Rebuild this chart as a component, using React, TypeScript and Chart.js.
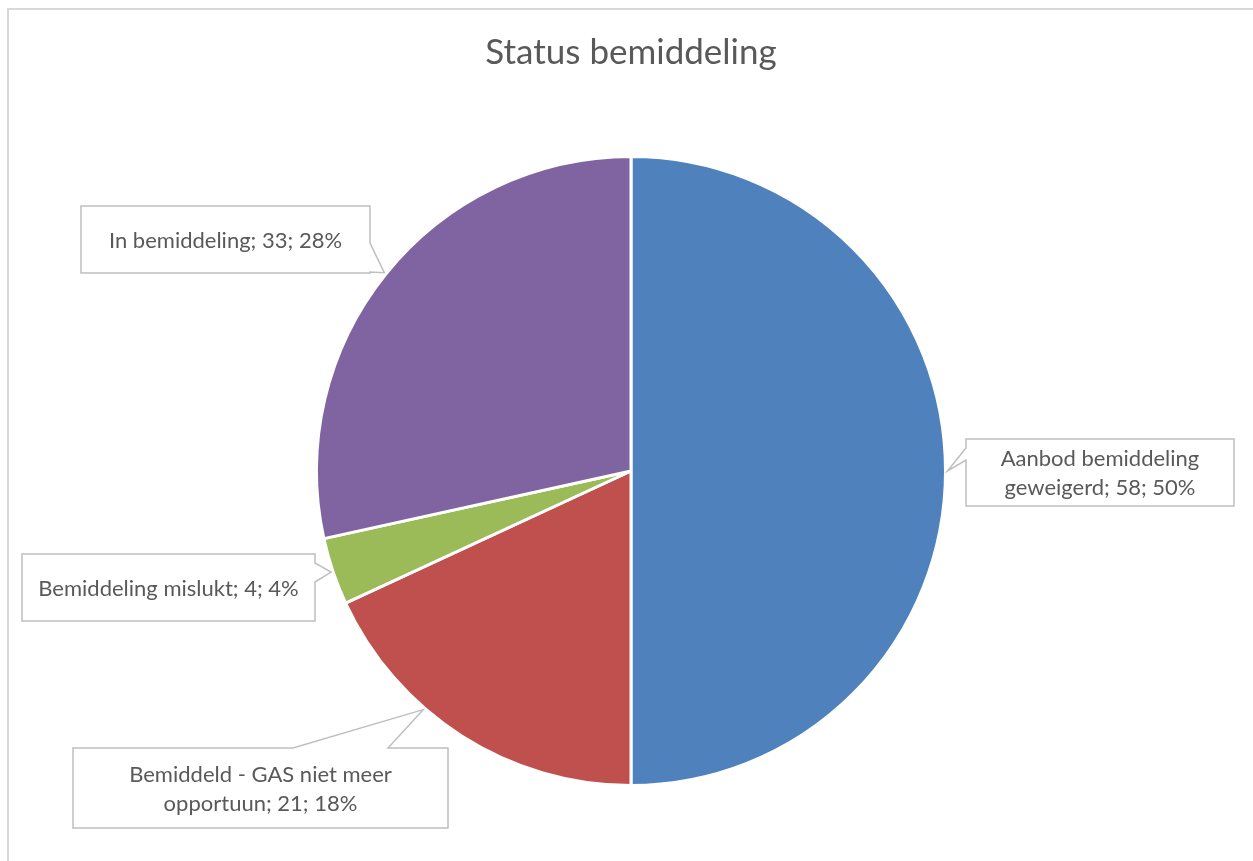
import { useEffect, useRef } from "react";
import { Chart, registerables } from "chart.js";

Chart.register(...registerables);

const chartTitle = "Status bemiddeling";
const categories = [
  "Aanbod bemiddeling geweigerd",
  "Bemiddeld - GAS niet meer opportuun",
  "Bemiddeling mislukt",
  "In bemiddeling",
];
const values = [58, 21, 4, 33];
const percentLabels = ["50%", "18%", "4%", "28%"];
const sliceColors = ["#4F81BD", "#C0504D", "#9BBB59", "#8064A2"];

const FONT = "Lato, 'Open Sans', sans-serif";
const TEXT_COLOR = "#595959";

// Callout layout (label boxes), pointer sits on one side of each box
const calloutLayout = [
  { box: [966, 439, 1234, 506], side: "left", base: [448, 460], frac: 0.5, maxW: 235 },
  { box: [73, 748, 448, 828], side: "top", base: [293, 388], frac: 0.63, maxW: 330 },
  { box: [22, 554, 315, 621], side: "right", base: [563, 582], frac: 0.5, maxW: 285 },
  { box: [81, 206, 370, 273], side: "right", base: [243, 272], frac: 0.5, maxW: 285 },
];

function wrap(ctx: CanvasRenderingContext2D, text: string, maxW: number): string[] {
  const words = text.split(" ");
  const lines: string[] = [];
  let cur = "";
  for (const w of words) {
    const t = cur ? cur + " " + w : w;
    if (ctx.measureText(t).width > maxW && cur) {
      lines.push(cur);
      cur = w;
    } else cur = t;
  }
  if (cur) lines.push(cur);
  return lines;
}

const decorPlugin = {
  id: "decor",
  beforeDraw(chart: any) {
    const ctx = chart.ctx as CanvasRenderingContext2D;
    ctx.save();
    ctx.fillStyle = "#ffffff";
    ctx.fillRect(0, 0, chart.width, chart.height);
    ctx.strokeStyle = "#d9d9d9";
    ctx.lineWidth = 2;
    ctx.strokeRect(8, 9, chart.width + 20, chart.height + 20);
    ctx.fillStyle = TEXT_COLOR;
    ctx.font = `35px ${FONT}`;
    ctx.textAlign = "center";
    ctx.textBaseline = "middle";
    ctx.fillText(chartTitle, 631, 53);
    ctx.restore();
  },
  afterDatasetsDraw(chart: any) {
    const ctx = chart.ctx as CanvasRenderingContext2D;
    const meta = chart.getDatasetMeta(0);
    ctx.save();
    ctx.font = `22px ${FONT}`;
    calloutLayout.forEach((c, i) => {
      const arc = meta.data[i];
      const p = arc.getProps(["x", "y", "startAngle", "endAngle", "outerRadius"], true);
      const a = p.startAngle + c.frac * (p.endAngle - p.startAngle);
      const r = p.outerRadius + 2;
      const tx = p.x + Math.cos(a) * r;
      const ty = p.y + Math.sin(a) * r;
      const [L, T, R, B] = c.box;
      ctx.beginPath();
      if (c.side === "left") {
        ctx.moveTo(L, T);
        ctx.lineTo(R, T);
        ctx.lineTo(R, B);
        ctx.lineTo(L, B);
        ctx.lineTo(L, c.base[1]);
        ctx.lineTo(tx, ty);
        ctx.lineTo(L, c.base[0]);
      } else if (c.side === "top") {
        ctx.moveTo(L, T);
        ctx.lineTo(c.base[0], T);
        ctx.lineTo(tx, ty);
        ctx.lineTo(c.base[1], T);
        ctx.lineTo(R, T);
        ctx.lineTo(R, B);
        ctx.lineTo(L, B);
      } else {
        ctx.moveTo(L, T);
        ctx.lineTo(R, T);
        ctx.lineTo(R, c.base[0]);
        ctx.lineTo(tx, ty);
        ctx.lineTo(R, c.base[1]);
        ctx.lineTo(R, B);
        ctx.lineTo(L, B);
      }
      ctx.closePath();
      ctx.fillStyle = "#ffffff";
      ctx.fill();
      ctx.strokeStyle = "#bfbfbf";
      ctx.lineWidth = 1.5;
      ctx.stroke();

      const text = `${categories[i]}; ${values[i]}; ${percentLabels[i]}`;
      const lines = wrap(ctx, text, c.maxW);
      const lh = 29;
      const cx = (L + R) / 2;
      const cy = (T + B) / 2 + 1;
      ctx.fillStyle = TEXT_COLOR;
      ctx.textAlign = "center";
      ctx.textBaseline = "middle";
      lines.forEach((ln, k) => {
        ctx.fillText(ln, cx, cy + (k - (lines.length - 1) / 2) * lh);
      });
    });
    ctx.restore();
  },
};

export default function App() {
  const ref = useRef<HTMLCanvasElement | null>(null);
  useEffect(() => {
    if (!ref.current) return;
    const chart = new Chart(ref.current, {
      type: "pie",
      data: {
        labels: categories,
        datasets: [
          {
            data: values,
            backgroundColor: sliceColors,
            borderColor: "#ffffff",
            borderWidth: 3,
          },
        ],
      },
      options: {
        responsive: false,
        animation: false,
        layout: { padding: { left: 315, top: 155, right: 306, bottom: 74 } },
        plugins: {
          legend: { display: false },
          title: { display: false },
          tooltip: { enabled: false },
        },
      },
      plugins: [decorPlugin],
    });
    return () => chart.destroy();
  }, []);
  return (
    <div style={{ position: "fixed", left: 0, top: 0, width: 1253, height: 861, background: "#fff" }}>
      <canvas ref={ref} width={1253} height={861} />
    </div>
  );
}
